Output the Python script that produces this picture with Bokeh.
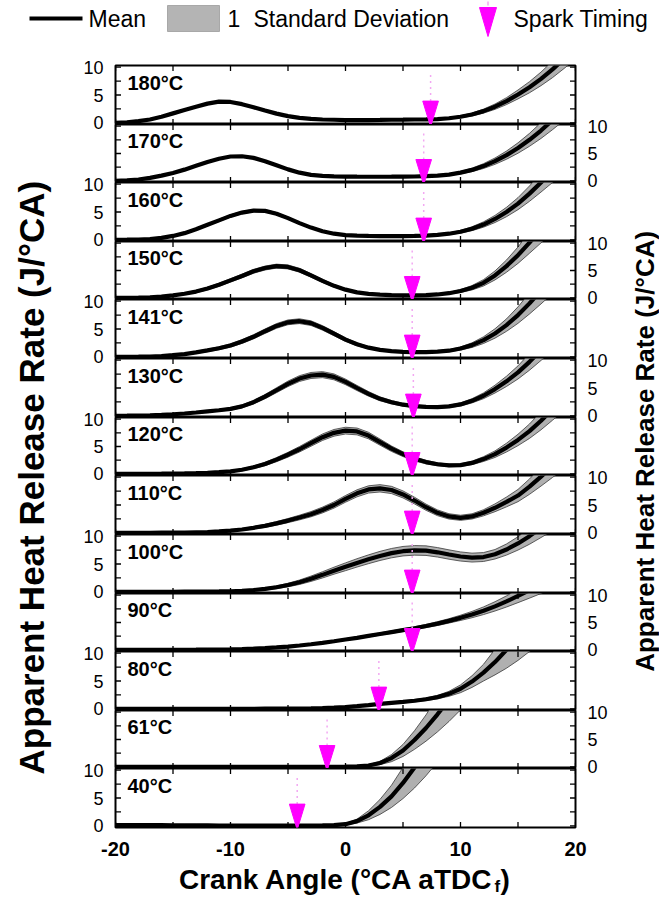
import numpy as np
from bokeh.plotting import figure
from bokeh.layouts import column, row
from bokeh.models import Range1d, FixedTicker, LinearAxis, ColumnDataSource
from bokeh.embed import file_html
from bokeh.resources import INLINE
from bokeh.core.properties import value

# ---------------- data ----------------
crank_angle = list(range(-20, 21))
temps = ["180°C", "170°C", "160°C", "150°C", "141°C", "130°C", "120°C",
         "110°C", "100°C", "90°C", "80°C", "61°C", "40°C"]
spark_timing = [7.4, 6.8, 6.8, 5.8, 5.8, 5.9, 5.8, 5.8, 5.8, 5.8, 2.9, -1.6, -4.2]

mean_180 = [0.0, 0.1, 0.3, 0.6, 1.1, 1.7, 2.3, 2.9, 3.45, 3.8,
            3.75, 3.35, 2.8, 2.2, 1.65, 1.2, 0.9, 0.72, 0.6, 0.55,
            0.5, 0.5, 0.5, 0.52, 0.55, 0.57, 0.6, 0.62, 0.68, 0.82,
            1.1, 1.5, 2.1, 2.9, 3.9, 5.1, 6.4, 7.9, 9.6, 11.5, 13.5]
std_180 = [0.05, 0.05, 0.06, 0.07, 0.08, 0.09, 0.1, 0.1, 0.11, 0.11,
           0.11, 0.11, 0.1, 0.1, 0.09, 0.08, 0.07, 0.06, 0.06, 0.05,
           0.05, 0.05, 0.05, 0.05, 0.05, 0.05, 0.05, 0.06, 0.08, 0.12,
           0.18, 0.26, 0.36, 0.48, 0.62, 0.8, 1.0, 1.22, 1.48, 1.75, 2.05]

mean_170 = [0.0, 0.1, 0.25, 0.55, 0.95, 1.45, 2.05, 2.75, 3.45, 4.05,
            4.45, 4.5, 4.2, 3.6, 2.85, 2.1, 1.5, 1.1, 0.92, 0.82,
            0.78, 0.76, 0.75, 0.75, 0.76, 0.78, 0.8, 0.85, 0.95, 1.15,
            1.5, 2.0, 2.7, 3.6, 4.7, 6.0, 7.5, 9.2, 11.1, 13.1, 15.3]
std_170 = [0.05, 0.05, 0.06, 0.07, 0.08, 0.09, 0.1, 0.11, 0.12, 0.12,
           0.12, 0.12, 0.12, 0.11, 0.1, 0.09, 0.08, 0.07, 0.06, 0.06,
           0.05, 0.05, 0.05, 0.05, 0.05, 0.05, 0.06, 0.07, 0.09, 0.14,
           0.22, 0.32, 0.44, 0.58, 0.75, 0.95, 1.18, 1.45, 1.75, 2.05, 2.4]

mean_160 = [0.0, 0.02, 0.06, 0.15, 0.35, 0.7, 1.2, 1.9, 2.7, 3.5,
            4.3, 4.9, 5.25, 5.2, 4.7, 3.9, 3.0, 2.2, 1.55, 1.1,
            0.85, 0.75, 0.7, 0.66, 0.65, 0.66, 0.7, 0.76, 0.88, 1.1,
            1.45, 2.0, 2.75, 3.75, 5.0, 6.5, 8.3, 10.3, 12.4, 14.6, 17.0]
std_160 = [0.04, 0.04, 0.05, 0.07, 0.09, 0.11, 0.13, 0.15, 0.17, 0.19,
           0.2, 0.21, 0.21, 0.21, 0.2, 0.18, 0.16, 0.13, 0.1, 0.08,
           0.07, 0.06, 0.06, 0.06, 0.06, 0.06, 0.07, 0.08, 0.1, 0.15,
           0.24, 0.35, 0.48, 0.64, 0.84, 1.08, 1.38, 1.72, 2.1, 2.5, 2.9]

mean_150 = [0.0, 0.02, 0.05, 0.1, 0.22, 0.45, 0.75, 1.15, 1.7, 2.4,
            3.2, 4.0, 4.85, 5.45, 5.8, 5.65, 5.05, 4.1, 3.1, 2.2,
            1.5, 1.0, 0.72, 0.58, 0.5, 0.46, 0.46, 0.5, 0.62, 0.85,
            1.25, 1.85, 2.75, 4.1, 5.8, 7.8, 10.1, 12.5, 15.0, 17.5, 20.0]
std_150 = [0.03, 0.03, 0.05, 0.07, 0.1, 0.13, 0.16, 0.2, 0.24, 0.28,
           0.31, 0.33, 0.35, 0.36, 0.36, 0.36, 0.35, 0.32, 0.28, 0.23,
           0.18, 0.14, 0.11, 0.09, 0.08, 0.08, 0.08, 0.09, 0.11, 0.16,
           0.26, 0.4, 0.58, 0.82, 1.12, 1.5, 1.95, 2.45, 3.0, 3.5, 4.0]

mean_141 = [0.0, 0.0, 0.02, 0.05, 0.15, 0.3, 0.5, 0.8, 1.15, 1.55,
            2.05, 2.75, 3.6, 4.6, 5.55, 6.2, 6.4, 6.05, 5.2, 4.15,
            3.1, 2.25, 1.65, 1.25, 1.02, 0.9, 0.85, 0.85, 0.92, 1.1,
            1.5, 2.1, 3.0, 4.2, 5.7, 7.5, 9.6, 11.9, 14.3, 16.9, 19.6]
std_141 = [0.03, 0.03, 0.04, 0.06, 0.08, 0.11, 0.14, 0.18, 0.22, 0.26,
           0.3, 0.34, 0.37, 0.4, 0.42, 0.43, 0.43, 0.42, 0.4, 0.37,
           0.32, 0.26, 0.2, 0.16, 0.13, 0.11, 0.1, 0.1, 0.12, 0.18,
           0.28, 0.42, 0.6, 0.84, 1.12, 1.48, 1.9, 2.4, 2.9, 3.4, 3.9]

mean_130 = [0.0, 0.02, 0.05, 0.1, 0.18, 0.28, 0.42, 0.6, 0.8, 1.0,
            1.25, 1.7, 2.45, 3.45, 4.6, 5.75, 6.7, 7.25, 7.4, 7.0,
            6.1, 5.0, 3.95, 3.05, 2.45, 2.0, 1.75, 1.6, 1.55, 1.7,
            2.05, 2.7, 3.6, 4.8, 6.2, 7.8, 9.7, 11.8, 14.1, 16.6, 19.3]
std_130 = [0.03, 0.03, 0.04, 0.05, 0.06, 0.08, 0.1, 0.12, 0.14, 0.16,
           0.2, 0.25, 0.31, 0.38, 0.44, 0.49, 0.52, 0.54, 0.54, 0.53,
           0.5, 0.46, 0.41, 0.35, 0.3, 0.26, 0.23, 0.21, 0.2, 0.2,
           0.28, 0.38, 0.52, 0.7, 0.92, 1.18, 1.5, 1.85, 2.25, 2.65, 3.1]

mean_120 = [0.0, 0.0, 0.01, 0.02, 0.03, 0.05, 0.08, 0.12, 0.2, 0.3,
            0.45, 0.75, 1.2, 1.8, 2.6, 3.5, 4.5, 5.6, 6.7, 7.5,
            7.9, 7.75, 7.0, 5.8, 4.6, 3.6, 2.75, 2.15, 1.75, 1.55,
            1.6, 2.0, 2.7, 3.6, 4.8, 6.2, 7.8, 9.7, 11.8, 14.0, 16.4]
std_120 = [0.02, 0.02, 0.02, 0.03, 0.03, 0.04, 0.05, 0.06, 0.08, 0.1,
           0.13, 0.18, 0.24, 0.31, 0.38, 0.44, 0.5, 0.55, 0.59, 0.61,
           0.62, 0.62, 0.6, 0.56, 0.5, 0.44, 0.38, 0.32, 0.27, 0.24,
           0.24, 0.32, 0.44, 0.6, 0.8, 1.04, 1.32, 1.65, 2.0, 2.4, 2.8]

mean_110 = [0.0, 0.0, 0.0, 0.01, 0.02, 0.03, 0.05, 0.1, 0.15, 0.25,
            0.4, 0.6, 0.9, 1.25, 1.7, 2.2, 2.75, 3.35, 4.1, 5.0,
            6.1, 7.1, 7.8, 8.0, 7.7, 6.9, 5.8, 4.6, 3.6, 2.95,
            2.7, 2.95, 3.6, 4.5, 5.55, 6.7, 8.3, 10.1, 12.0, 14.0, 16.0]
std_110 = [0.02, 0.02, 0.02, 0.02, 0.03, 0.03, 0.04, 0.06, 0.08, 0.1,
           0.13, 0.17, 0.22, 0.27, 0.32, 0.37, 0.42, 0.47, 0.52, 0.56,
           0.6, 0.63, 0.65, 0.66, 0.65, 0.63, 0.6, 0.56, 0.52, 0.48,
           0.46, 0.47, 0.55, 0.7, 0.88, 1.1, 1.38, 1.7, 2.05, 2.45, 2.85]

mean_100 = [0.0, 0.0, 0.0, 0.0, 0.0, 0.01, 0.02, 0.03, 0.05, 0.07,
            0.1, 0.18, 0.32, 0.52, 0.82, 1.22, 1.72, 2.35, 3.05, 3.8,
            4.5, 5.2, 5.85, 6.45, 6.95, 7.3, 7.45, 7.4, 7.1, 6.7,
            6.35, 6.15, 6.25, 6.75, 7.6, 8.7, 10.0, 11.5, 13.1, 14.9, 16.8]
std_100 = [0.02, 0.02, 0.02, 0.02, 0.02, 0.02, 0.03, 0.03, 0.04, 0.05,
           0.07, 0.1, 0.14, 0.19, 0.25, 0.32, 0.4, 0.48, 0.56, 0.63,
           0.7, 0.75, 0.79, 0.82, 0.84, 0.85, 0.86, 0.86, 0.85, 0.84,
           0.82, 0.8, 0.8, 0.85, 1.0, 1.2, 1.45, 1.75, 2.1, 2.5, 2.9]

mean_90 = [0.0, 0.0, 0.0, 0.0, 0.0, 0.01, 0.02, 0.03, 0.05, 0.07,
           0.1, 0.15, 0.22, 0.32, 0.45, 0.6, 0.8, 1.02, 1.28, 1.58,
           1.9, 2.2, 2.55, 2.9, 3.25, 3.6, 3.95, 4.35, 4.8, 5.3,
           5.85, 6.45, 7.15, 7.95, 8.85, 9.85, 10.9, 12.0, 13.2, 14.5, 15.8]
std_90 = [0.02, 0.02, 0.02, 0.02, 0.02, 0.02, 0.02, 0.02, 0.03, 0.03,
          0.04, 0.05, 0.06, 0.07, 0.08, 0.09, 0.1, 0.11, 0.12, 0.13,
          0.15, 0.17, 0.19, 0.21, 0.23, 0.25, 0.27, 0.3, 0.35, 0.4,
          0.48, 0.58, 0.7, 0.85, 1.02, 1.22, 1.45, 1.7, 2.0, 2.3, 2.6]

mean_80 = [0.0, 0.0, 0.0, 0.0, 0.0, 0.0, 0.0, 0.0, 0.0, 0.0,
           0.0, 0.01, 0.01, 0.02, 0.02, 0.03, 0.05, 0.08, 0.12, 0.2,
           0.32, 0.48, 0.68, 0.9, 1.08, 1.25, 1.45, 1.72, 2.1, 2.7,
           3.6, 4.9, 6.5, 8.4, 10.6, 13.0, 15.6, 18.3, 21.0, 23.7, 26.4]
std_80 = [0.02, 0.02, 0.02, 0.02, 0.02, 0.02, 0.02, 0.02, 0.02, 0.02,
          0.02, 0.02, 0.02, 0.02, 0.02, 0.03, 0.03, 0.04, 0.05, 0.06,
          0.08, 0.1, 0.12, 0.14, 0.16, 0.18, 0.2, 0.24, 0.3, 0.45,
          0.7, 1.05, 1.5, 2.3, 3.3, 4.3, 5.3, 6.3, 7.3, 8.3, 9.3]

mean_61 = [0.0, 0.0, 0.0, 0.0, 0.0, 0.0, 0.0, 0.0, 0.0, 0.0,
           0.0, 0.0, 0.0, 0.0, 0.0, 0.0, 0.0, 0.0, 0.0, 0.0,
           0.03, 0.08, 0.25, 0.7, 1.6, 3.0, 4.9, 7.1, 9.6, 12.3,
           15.2, 18.2, 21.3, 24.5, 27.7, 31.0, 34.3, 37.6, 41.0, 44.4, 47.8]
std_61 = [0.02, 0.02, 0.02, 0.02, 0.02, 0.02, 0.02, 0.02, 0.02, 0.02,
          0.02, 0.02, 0.02, 0.02, 0.02, 0.02, 0.02, 0.02, 0.02, 0.02,
          0.03, 0.06, 0.15, 0.3, 0.65, 1.1, 1.7, 2.4, 3.2, 4.0,
          4.8, 5.6, 6.4, 7.2, 8.0, 8.8, 9.6, 10.4, 11.2, 12.0, 12.8]

mean_40 = [0.15, 0.14, 0.13, 0.12, 0.11, 0.1, 0.09, 0.08, 0.07, 0.06,
           0.05, 0.05, 0.04, 0.04, 0.04, 0.04, 0.04, 0.05, 0.07, 0.12,
           0.3, 0.85, 1.9, 3.4, 5.3, 7.7, 10.5, 13.6, 17.0, 20.5,
           24.0, 27.5, 31.0, 34.5, 38.0, 41.5, 45.0, 48.5, 52.0, 55.5, 59.0]
std_40 = [0.03, 0.03, 0.03, 0.03, 0.03, 0.03, 0.03, 0.03, 0.03, 0.03,
          0.03, 0.03, 0.03, 0.03, 0.03, 0.03, 0.03, 0.03, 0.04, 0.06,
          0.12, 0.35, 0.8, 1.35, 2.0, 2.8, 3.7, 4.6, 5.5, 6.4,
          7.3, 8.2, 9.1, 10.0, 10.9, 11.8, 12.7, 13.6, 14.5, 15.4, 16.3]

means = [mean_180, mean_170, mean_160, mean_150, mean_141, mean_130, mean_120,
         mean_110, mean_100, mean_90, mean_80, mean_61, mean_40]
stds = [std_180, std_170, std_160, std_150, std_141, std_130, std_120,
        std_110, std_100, std_90, std_80, std_61, std_40]

x_ticks = [-20, -15, -10, -5, 0, 5, 10, 15, 20]
x_tick_labels = [-20, -10, 0, 10, 20]
y_ticks = [0, 2.5, 5, 7.5, 10]
y_tick_labels = [0, 5, 10]

# ---------------- style / layout ----------------
FONT = "Liberation Sans"
YMIN, YMAX = -0.3, 10.3
XMIN, XMAX = -20, 20
N = len(temps)
FRAME_W = 460
TOTAL_H = 762
heights = [round(TOTAL_H * (i + 1) / N) - round(TOTAL_H * i / N) for i in range(N)]
TOP_PAD = 10
BOT_PAD = 10
ROW_H = TOP_PAD + TOTAL_H + BOT_PAD
PAGE_W = 659
LEG_H = 55
XF_H = 61
PANEL_LEFT = 115           # pixel column of x = -20
PX_PER_X = FRAME_W / (XMAX - XMIN)
TRI_HALF = 0.68
TRI_TOP = 3.9
TRI_TIP = -0.7
DASH_TOP = 8.8
LABEL_Y = 7.2
TICK = 11


def clean(f):
    f.grid.grid_line_color = None
    return f


panels = []
for i in range(N):
    p = figure(frame_width=FRAME_W, frame_height=heights[i],
               x_range=Range1d(XMIN, XMAX), y_range=Range1d(YMIN, YMAX),
               output_backend="svg", toolbar_location=None,
               x_axis_location=None, y_axis_location=None,
               min_border_left=2, min_border_right=2,
               min_border_top=TOP_PAD if i == 0 else 0,
               min_border_bottom=BOT_PAD if i == N - 1 else 0,
               outline_line_color="black", outline_line_width=2,
               background_fill_color="white", border_fill_color="white")
    clean(p)

    m = np.array(means[i])
    s = np.array(stds[i])
    src = ColumnDataSource(dict(x=crank_angle, m=m, lo=m - s, hi=m + s))
    p.varea(x="x", y1="lo", y2="hi", source=src, fill_color="#b0b0b0")
    p.line("x", "hi", source=src, line_color="#3a3a3a", line_width=0.8)
    p.line("x", "lo", source=src, line_color="#3a3a3a", line_width=0.8)
    p.line("x", "m", source=src, line_color="black", line_width=4.2)

    # inward ticks on all four frame edges (the outer half of each dash is clipped)
    p.scatter(x=x_ticks, y=[YMIN] * len(x_ticks), marker="dash", angle=np.pi / 2,
              size=TICK, line_color="black", line_width=1.3)
    p.scatter(x=x_ticks, y=[YMAX] * len(x_ticks), marker="dash", angle=np.pi / 2,
              size=TICK, line_color="black", line_width=1.3)
    p.scatter(x=[XMIN] * len(y_ticks), y=y_ticks, marker="dash",
              size=TICK, line_color="black", line_width=1.3)
    p.scatter(x=[XMAX] * len(y_ticks), y=y_ticks, marker="dash",
              size=TICK, line_color="black", line_width=1.3)

    st = spark_timing[i]
    p.segment(x0=[st], y0=[TRI_TOP], x1=[st], y1=[DASH_TOP],
              line_color="#f2a8f2", line_width=1.5, line_dash="2 4")
    p.patch(x=[st - TRI_HALF, st + TRI_HALF, st], y=[TRI_TOP, TRI_TOP, TRI_TIP],
            fill_color="#ff00ff", line_color="#ff00ff", line_width=1)
    p.text(x=[XMIN], y=[LABEL_Y], text=[temps[i]], x_offset=12,
           text_font=value(FONT), text_font_style="bold", text_font_size="20px",
           text_baseline="middle", text_align="left", text_color="black")
    panels.append(p)


def label_strip(side, width):
    f = figure(frame_width=1, frame_height=TOTAL_H,
               x_range=Range1d(0, 1), y_range=Range1d(0, TOTAL_H),
               output_backend="svg", toolbar_location=None,
               x_axis_location=None, y_axis_location=None,
               min_border_top=TOP_PAD, min_border_bottom=BOT_PAD,
               min_border_left=width - 1 if side == "left" else 0,
               min_border_right=0 if side == "left" else width - 1,
               outline_line_color=None, border_fill_color="white",
               background_fill_color="white")
    clean(f)
    pos, over = [], {}
    bottom = TOTAL_H
    for i in range(N):
        bottom -= heights[i]
        if (i % 2 == 0) == (side == "left"):
            for v in y_tick_labels:
                yy = round(bottom + (v - YMIN) / (YMAX - YMIN) * heights[i], 2)
                pos.append(yy)
                over[yy] = str(v)
    ax = LinearAxis(ticker=FixedTicker(ticks=pos, minor_ticks=[]),
                    major_label_overrides=over,
                    major_tick_line_color=None, minor_tick_line_color=None,
                    axis_line_color=None,
                    major_label_text_font=FONT, major_label_text_font_size="18px",
                    major_label_text_color="black",
                    major_label_standoff=3 if side == "left" else 3)
    f.add_layout(ax, side)
    return f


def title_fig(w, xc, yc, size):
    f = figure(width=w, height=ROW_H, x_range=Range1d(0, w), y_range=Range1d(0, ROW_H),
               output_backend="svg", toolbar_location=None,
               x_axis_location=None, y_axis_location=None,
               min_border=0, outline_line_color=None)
    clean(f)
    f.text(x=[xc], y=[yc], text=["Apparent Heat Release Rate (J/°CA)"],
           angle=np.pi / 2, text_font=value(FONT), text_font_style="bold",
           text_font_size=size, text_align="center", text_baseline="middle",
           text_color="black")
    return f


left_title = title_fig(60, 31, 359, "35px")
right_title = title_fig(34, 19, 386, "26px")
main_row = row(left_title, label_strip("left", 53), column(*panels),
               label_strip("right", 48), right_title)

# legend (its own strip above the panels)
leg = figure(width=PAGE_W, height=LEG_H, x_range=Range1d(0, PAGE_W), y_range=Range1d(0, LEG_H),
             output_backend="svg", toolbar_location=None,
             x_axis_location=None, y_axis_location=None,
             min_border=0, outline_line_color=None)
clean(leg)
ly = 37
leg.line([29, 82], [ly, ly], line_color="black", line_width=4)
leg.text(x=[88], y=[ly], text=["Mean"], text_font=value(FONT), text_font_size="23px",
         text_baseline="middle")
leg.rect(x=[193], y=[ly], width=52, height=26, fill_color="#b4b4b4",
         line_color="#a8a8a8", line_width=1)
leg.text(x=[227], y=[ly], text=["1"], text_font=value(FONT),
         text_font_size="23px", text_baseline="middle")
leg.text(x=[253], y=[ly], text=["Standard Deviation"], text_font=value(FONT),
         text_font_size="23px", text_baseline="middle")
leg.segment(x0=[487.5], y0=[54], x1=[487.5], y1=[50], line_color="#f2a8f2", line_width=1.5)
leg.patch(x=[479, 496, 487.5], y=[48, 48, 19], fill_color="#ff00ff", line_color="#ff00ff")
leg.text(x=[513], y=[ly], text=["Spark Timing"], text_font=value(FONT),
         text_font_size="23px", text_baseline="middle")

# x tick labels and x title (its own strip below the panels)
x_lo = XMIN - PANEL_LEFT / PX_PER_X
x_hi = x_lo + PAGE_W / PX_PER_X
xf = figure(width=PAGE_W, height=XF_H, x_range=Range1d(x_lo, x_hi), y_range=Range1d(0, XF_H),
            output_backend="svg", toolbar_location=None,
            x_axis_location=None, y_axis_location=None,
            min_border=0, outline_line_color=None)
clean(xf)
xf.text(x=x_tick_labels, y=[50] * len(x_tick_labels), text=[str(v) for v in x_tick_labels],
        text_font=value(FONT), text_font_style="bold", text_font_size="20px",
        text_align="center", text_baseline="middle", text_color="black")
xf.text(x=[0], y=[19], text=["Crank Angle (°CA aTDC"], x_offset=148,
        text_font=value(FONT), text_font_style="bold", text_font_size="28px",
        text_align="right", text_baseline="middle")
xf.text(x=[0], y=[12], text=["f"], x_offset=149,
        text_font=value(FONT), text_font_style="bold", text_font_size="17px",
        text_align="left", text_baseline="middle")
xf.text(x=[0], y=[19], text=[")"], x_offset=155,
        text_font=value(FONT), text_font_style="bold", text_font_size="28px",
        text_align="left", text_baseline="middle")

layout = column(leg, main_row, xf)
open("out.html", "w").write(file_html(layout, INLINE))
